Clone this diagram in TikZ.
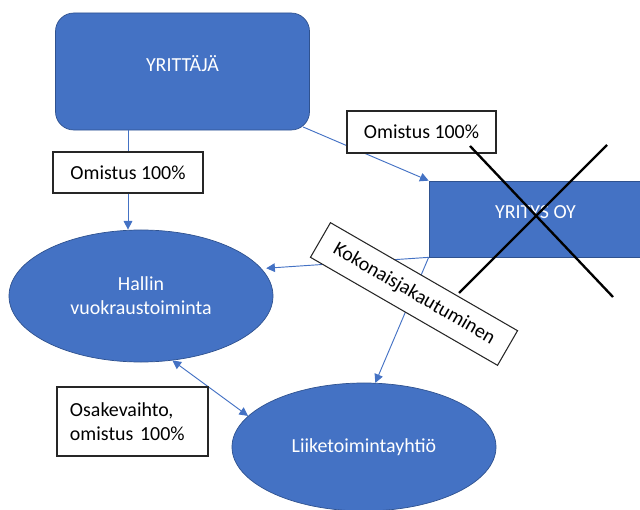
\documentclass[tikz,border=0pt]{standalone}
\usepackage{fontspec}
\setmainfont{Carlito}
\usetikzlibrary{shapes.geometric,arrows.meta}

\definecolor{officeblue}{HTML}{4472C4}
\definecolor{officeline}{HTML}{2F528F}

\begin{document}
\begin{tikzpicture}[
    x=0.03cm, y=-0.03cm,
    font=\fontsize{17}{20.5}\selectfont,
    bluebox/.style={rectangle, draw=officeline, fill=officeblue, text=white, line width=0.6pt, inner sep=0pt},
    blueoval/.style={ellipse, draw=officeline, fill=officeblue, text=white, line width=0.6pt, inner sep=0pt, align=center},
    tagbox/.style={rectangle, draw=black!85, fill=white, line width=0.9pt, inner sep=0pt},
    arrow/.style={-{Triangle[length=2.6mm,width=2.6mm]}, draw=officeblue, line width=0.8pt},
    crossline/.style={draw=black, line width=2pt}
]
    \path[use as bounding box] (0,0) rectangle (640,510);

    % companies and activities
    \node [bluebox, rounded corners=0.55cm, minimum width=7.62cm, minimum height=3.51cm, text depth=0.45cm] (yrittaja) at (182.5,71.5) {YRITTÄJÄ};
    \node [bluebox, minimum width=6.39cm, minimum height=2.28cm, text depth=0.42cm] (yritys) at (535.5,219) {YRITYS OY};
    \node [blueoval, minimum width=7.92cm, minimum height=3.96cm] (hallin) at (141,296) {Hallin\\vuokraustoiminta};
    \node [blueoval, minimum width=7.92cm, minimum height=3.84cm] (liike) at (364,447) {Liiketoimintayhtiö};

    % ownership of the hall business
    \node [tagbox, minimum width=4.5cm, minimum height=1.23cm] (omistus1) at (128,172.5) {Omistus 100\%};
    \draw [arrow, -] (omistus1 |- yrittaja.south) -- (omistus1);
    \draw [arrow] (omistus1) -- (omistus1 |- hallin.north);

    \draw [arrow] ([xshift=-0.2cm, yshift=0.1cm]yrittaja.south east) -- (yritys.north west);
    \node [tagbox, minimum width=4.47cm, minimum height=1.26cm] (omistus2) at (421.5,132) {Omistus 100\%};

    % demerger
    \draw [arrow] (yritys.south west) -- ([xshift=0.15cm]hallin.13);
    \draw [arrow] (yritys.south west) -- (liike.80);
    \draw [arrow, {Triangle[length=2.6mm,width=2.6mm]}-{Triangle[length=2.6mm,width=2.6mm]}] (hallin.-64) -- (liike.165);

    \node [tagbox, minimum width=4.53cm, minimum height=2.07cm, text width=3.75cm, align=left] (osake) at (132.5,421.5) {Osakevaihto,\\omistus 100\%};

    % crossed out
    \draw [crossline] (470,146) -- (613,297);
    \draw [crossline] (607,145) -- (459,293);

    \node [tagbox, rotate=-30, minimum width=6.48cm, minimum height=1.2cm] (koko) at (414,294) {Kokonaisjakautuminen};
\end{tikzpicture}
\end{document}
